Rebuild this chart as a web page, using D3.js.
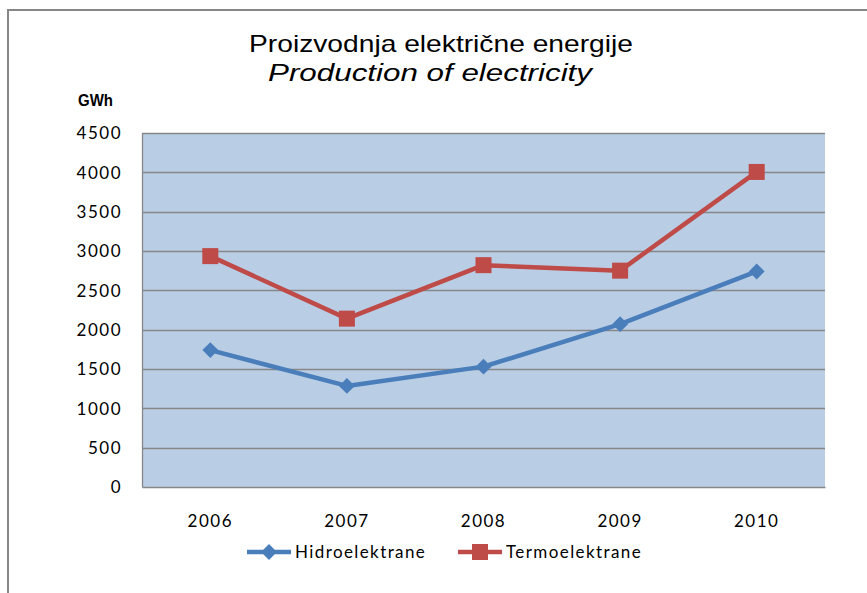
<!DOCTYPE html>
<meta charset="utf-8">
<head>
<style>
  body { margin: 0; background: #fff; }
  svg { display: block; }
  .tick text { font-family: Lato, "Open Sans", sans-serif; font-size: 17px; letter-spacing: 1.5px; fill: #000; }
  .title { font-family: "Liberation Sans", Arial, sans-serif; font-size: 24px; fill: #000; text-anchor: middle; }
  .unit { font-family: "Liberation Sans", sans-serif; font-size: 16px; font-weight: bold; }
  .leg { font-family: Lato, "Open Sans", sans-serif; font-size: 17px; letter-spacing: 1.4px; }
</style>
</head>
<body>
<svg id="chart" width="867" height="593"></svg>
<script src="https://cdnjs.cloudflare.com/ajax/libs/d3/7.8.5/d3.min.js"></script>
<script>

  var years = ["2006", "2007", "2008", "2009", "2010"];
  var hidro = [1740, 1285, 1530, 2070, 2740];
  var termo = [2935, 2140, 2820, 2750, 4005];
  var yTicks = [0, 500, 1000, 1500, 2000, 2500, 3000, 3500, 4000, 4500];
  var seriesNames = ["Hidroelektrane", "Termoelektrane"];

  var blue = "#4a7ebb", red = "#be4b48";

  var svg = d3.select("#chart");

  // outer chart frame (runs off the right/bottom of the window)
  svg.append("rect")
     .attr("x", 8).attr("y", 10)
     .attr("width", 900).attr("height", 650)
     .attr("fill", "none").attr("stroke", "#868686").attr("stroke-width", 2);

  var pLeft = 142, pRight = 825, pTop = 133, pBottom = 487;

  var x = d3.scaleBand().domain(years).range([pLeft, pRight]);
  var y = d3.scaleLinear().domain([0, 4500]).range([pBottom, pTop]);

  svg.append("rect")
     .attr("x", pLeft).attr("y", pTop)
     .attr("width", pRight - pLeft).attr("height", pBottom - pTop)
     .attr("fill", "#b9cde5");

  // gridlines
  svg.append("g").selectAll("line")
     .data(yTicks.filter(d => d > 0))
     .join("line")
     .attr("x1", pLeft).attr("x2", pRight)
     .attr("y1", d => Math.round(y(d)) + 0.5).attr("y2", d => Math.round(y(d)) + 0.5)
     .attr("stroke", "#878787").attr("stroke-width", 1.3);

  var yAxis = svg.append("g")
     .attr("transform", "translate(" + pLeft + ",0)")
     .call(d3.axisLeft(y).tickValues(yTicks).tickFormat(d3.format("d")).tickSize(0).tickPadding(20));
  yAxis.select(".domain").attr("stroke", "#878787").attr("stroke-width", 1.3);
  yAxis.selectAll(".tick text").attr("dy", "0.35em");

  var xAxis = svg.append("g")
     .attr("transform", "translate(0," + pBottom + ")")
     .call(d3.axisBottom(x).tickSize(0).tickPadding(28));
  xAxis.select(".domain").attr("stroke", "#878787").attr("stroke-width", 1.3);

  var line = d3.line()
     .x((d, i) => x(years[i]) + x.bandwidth() / 2)
     .y(d => y(d));

  svg.append("path").datum(hidro)
     .attr("d", line).attr("fill", "none")
     .attr("stroke", blue).attr("stroke-width", 4.5).attr("stroke-linejoin", "round");
  svg.append("path").datum(termo)
     .attr("d", line).attr("fill", "none")
     .attr("stroke", red).attr("stroke-width", 4.5).attr("stroke-linejoin", "round");

  var diamond = d3.symbol().type(d3.symbolDiamond2).size(160);

  svg.append("g").selectAll("path")
     .data(hidro).join("path")
     .attr("d", diamond)
     .attr("transform", (d, i) => "translate(" + (x(years[i]) + x.bandwidth() / 2) + "," + y(d) + ")")
     .attr("fill", blue);

  svg.append("g").selectAll("rect")
     .data(termo).join("rect")
     .attr("x", (d, i) => x(years[i]) + x.bandwidth() / 2 - 8)
     .attr("y", d => y(d) - 8)
     .attr("width", 16).attr("height", 16)
     .attr("fill", red);

  // titles
  svg.append("text").attr("class", "title")
     .attr("x", 441).attr("y", 52)
     .attr("textLength", 384).attr("lengthAdjust", "spacingAndGlyphs")
     .text("Proizvodnja električne energije");
  svg.append("text").attr("class", "title")
     .attr("x", 430).attr("y", 81).style("font-style", "italic")
     .attr("textLength", 324).attr("lengthAdjust", "spacingAndGlyphs")
     .text("Production of electricity");
  svg.append("text").attr("class", "unit")
     .attr("x", 78).attr("y", 106)
     .attr("textLength", 35).attr("lengthAdjust", "spacingAndGlyphs")
     .text("GWh");

  // legend
  var leg = svg.append("g");
  var legX = [247, 458];
  seriesNames.forEach(function (name, i) {
    var c = i === 0 ? blue : red;
    var g = leg.append("g").attr("transform", "translate(" + legX[i] + ",552)");
    g.append("line").attr("x1", 0).attr("x2", 44).attr("y1", 0).attr("y2", 0)
     .attr("stroke", c).attr("stroke-width", 4.5);
    if (i === 0) {
      g.append("path").attr("d", diamond).attr("transform", "translate(22,0)").attr("fill", c);
    } else {
      g.append("rect").attr("x", 14).attr("y", -8).attr("width", 16).attr("height", 16).attr("fill", c);
    }
    g.append("text").attr("class", "leg").attr("x", 48).attr("y", 6).text(name);
  });

</script>
</body>
